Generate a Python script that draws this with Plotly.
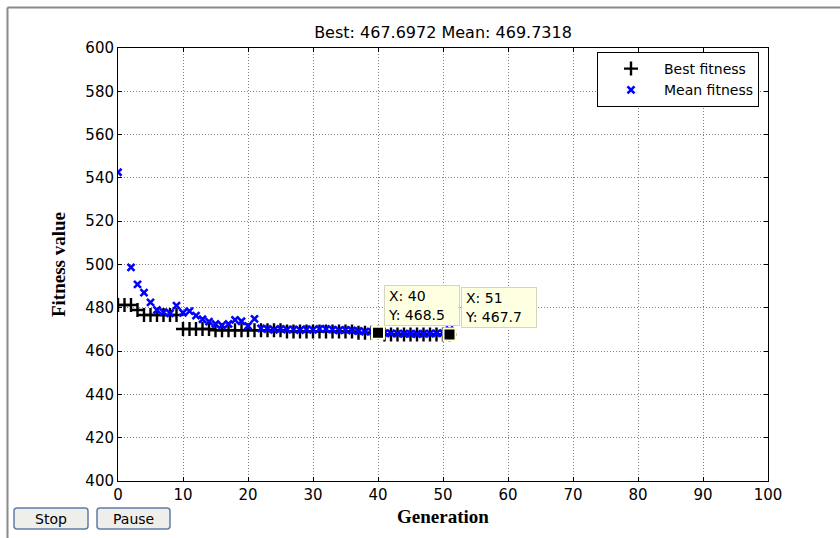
import plotly.graph_objects as go

# Genetic algorithm progress: best and mean fitness per generation
generations = list(range(52))

best_fitness = [
    481.3, 481.3, 481.3, 479.0, 476.7, 476.7, 476.7, 476.7, 476.7, 476.7,
    470.2, 470.2, 470.2, 470.2, 470.2, 469.6, 469.6, 469.6, 469.6, 469.6,
    469.6, 469.6, 469.6, 469.6, 469.6, 469.6, 469.1, 469.1, 469.1, 469.1,
    469.1, 469.1, 469.1, 469.1, 469.1, 469.1, 469.1, 468.5, 468.5, 468.5,
    468.5, 467.7, 467.7, 467.7, 467.7, 467.7, 467.7, 467.7, 467.7, 467.7,
    467.7, 467.6972,
]

mean_fitness = [
    542.6, None, 498.7, 490.8, 487.0, 482.5, 479.0, 478.0, 477.5, 481.0,
    477.7, 478.5, 476.4, 474.7, 473.6, 472.5, 471.9, 472.5, 474.4, 473.8,
    471.6, 474.9, 470.5, 470.2, 469.8, 470.3, 469.9, 470.0, 469.7, 470.1,
    469.8, 470.3, 470.2, 469.9, 469.6, 469.8, 469.5, 469.3, 469.0, 469.0,
    468.9, 468.3, 468.2, 468.1, 468.0, 468.0, 467.9, 468.0, 468.1, 468.2,
    468.3, 469.7318,
]

final_best = 467.6972
final_mean = 469.7318

# generations marked with data tips
tip_generations = [40, 51]

x_ticks = [0, 10, 20, 30, 40, 50, 60, 70, 80, 90, 100]
y_ticks = [400, 420, 440, 460, 480, 500, 520, 540, 560, 580, 600]

# page geometry (pixels)
W, H = 840, 538
L, R, T, B = 118, 768, 48, 481


def px_x(p):
    return (p - L) / (R - L)


def px_y(p):
    return (B - p) / (B - T)


SANS = "DejaVu Sans"
SERIF = "Liberation Serif"

fig = go.Figure()

fig.add_trace(go.Scatter(
    x=generations, y=best_fitness, mode="markers", name="Best fitness",
    marker=dict(symbol="cross-thin", size=10,
                line=dict(color="black", width=2.4)),
))
fig.add_trace(go.Scatter(
    x=generations, y=mean_fitness, mode="markers", name="Mean fitness",
    marker=dict(symbol="x-thin", size=7,
                line=dict(color="#0000ff", width=2.6)),
))

tip_values = [best_fitness[g] for g in tip_generations]
fig.add_trace(go.Scatter(
    x=tip_generations, y=tip_values, mode="markers", showlegend=False,
    marker=dict(symbol="square", size=12, color="black",
                line=dict(color="#ffffd8", width=2)),
))

annotations = []
for g, v in zip(tip_generations, tip_values):
    dx = 0.9 if g == tip_generations[0] else 1.7
    annotations.append(dict(
        x=g + dx, y=v + 22, xref="x", yref="y",
        xanchor="left", yanchor="top", showarrow=False, align="left",
        text=f"X: {g}<br>Y: {v:.1f}",
        font=dict(family=SANS, size=14, color="black"),
        bgcolor="#ffffe1", bordercolor="#d4d4c0", borderwidth=1,
        borderpad=3, width=68, height=33,
    ))

# Stop / Pause buttons
buttons = [("Stop", 14, 88), ("Pause", 97, 170)]
btn_top, btn_bot = 508, 529
shapes = []


def rounded_rect(x0, y0, x1, y1, r=3):
    X = lambda p: px_x(p)
    Y = lambda p: px_y(p)
    return (
        f"M {X(x0 + r)},{Y(y0)} L {X(x1 - r)},{Y(y0)} "
        f"Q {X(x1)},{Y(y0)} {X(x1)},{Y(y0 + r)} "
        f"L {X(x1)},{Y(y1 - r)} Q {X(x1)},{Y(y1)} {X(x1 - r)},{Y(y1)} "
        f"L {X(x0 + r)},{Y(y1)} Q {X(x0)},{Y(y1)} {X(x0)},{Y(y1 - r)} "
        f"L {X(x0)},{Y(y0 + r)} Q {X(x0)},{Y(y0)} {X(x0 + r)},{Y(y0)} Z"
    )


for label, bx0, bx1 in buttons:
    shapes.append(dict(
        type="path", xref="paper", yref="paper",
        path=rounded_rect(bx0, btn_top, bx1, btn_bot),
        fillcolor="#eeeeea", line=dict(color="#5d7ea6", width=1.5),
        layer="above",
    ))
    annotations.append(dict(
        x=px_x((bx0 + bx1) / 2), y=px_y((btn_top + btn_bot) / 2),
        xref="paper", yref="paper", showarrow=False,
        xanchor="center", yanchor="middle", text=label,
        font=dict(family=SANS, size=14, color="black"),
    ))

# window frame (top and left edges)
shapes.append(dict(type="line", xref="paper", yref="paper",
                   x0=px_x(7.5), x1=px_x(W + 5), y0=px_y(7.5), y1=px_y(7.5),
                   line=dict(color="#8a8a8a", width=2), layer="above"))
shapes.append(dict(type="line", xref="paper", yref="paper",
                   x0=px_x(7.5), x1=px_x(7.5), y0=px_y(7.5), y1=px_y(H + 5),
                   line=dict(color="#8a8a8a", width=2), layer="above"))

axis_common = dict(
    showline=True, linecolor="black", linewidth=1, mirror="ticks",
    ticks="inside", ticklen=4, tickcolor="black", tickwidth=1,
    showgrid=True, gridcolor="#808080", gridwidth=1, griddash="1px,2px",
    zeroline=False, tickfont=dict(family=SANS, size=15, color="black"),
)

fig.update_layout(
    width=W, height=H,
    margin=dict(l=L, r=W - R, t=T, b=H - B, autoexpand=False),
    paper_bgcolor="white", plot_bgcolor="white",
    title=dict(
        text=f"Best: {final_best:.4f} Mean: {final_mean:.4f}",
        x=0.5, xref="paper", xanchor="center",
        y=1 - 32 / H, yref="container", yanchor="middle",
        font=dict(family=SANS, size=16, color="black"),
    ),
    xaxis=dict(
        range=[0, 100], tickvals=x_ticks, ticktext=[str(v) for v in x_ticks],
        title=dict(text="<b>Generation</b>", standoff=6,
                   font=dict(family=SERIF, size=19, color="black")),
        **axis_common,
    ),
    yaxis=dict(
        range=[400, 600], tickvals=y_ticks, ticktext=[str(v) for v in y_ticks],
        title=dict(text="<b>Fitness value</b>", standoff=14,
                   font=dict(family=SERIF, size=19, color="black")),
        **axis_common,
    ),
    legend=dict(
        x=px_x(759), y=px_y(52), xanchor="right", yanchor="top",
        bgcolor="white", bordercolor="black", borderwidth=1,
        font=dict(family=SANS, size=14, color="black"),
        itemwidth=56, tracegroupgap=0,
    ),
    shapes=shapes,
    annotations=annotations,
    showlegend=True,
)

fig.write_html("out.html")
